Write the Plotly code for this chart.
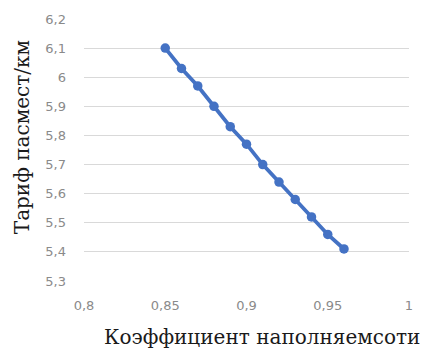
import plotly.graph_objects as go

x_vals = [0.85, 0.86, 0.87, 0.88, 0.89, 0.90, 0.91, 0.92, 0.93, 0.94, 0.95, 0.96]
y_vals = [6.10, 6.03, 5.97, 5.90, 5.83, 5.77, 5.70, 5.64, 5.58, 5.52, 5.46, 5.41]
x_ticks = [0.8, 0.85, 0.9, 0.95, 1.0]
x_tick_text = ["0,8", "0,85", "0,9", "0,95", "1"]
y_ticks = [5.3, 5.4, 5.5, 5.6, 5.7, 5.8, 5.9, 6.0, 6.1, 6.2]
y_tick_text = ["5,3", "5,4", "5,5", "5,6", "5,7", "5,8", "5,9", "6", "6,1", "6,2"]
x_title = "Коэффициент наполняемсоти"
y_title = "Тариф пасмест/км"

W, H = 427, 360
L, R, T, B = 84, 18, 15, 79

fig = go.Figure()
fig.add_trace(go.Scatter(
    x=x_vals, y=y_vals, mode="lines+markers",
    line=dict(color="#4472C4", width=3.8),
    marker=dict(color="#4472C4", size=9.5),
    showlegend=False,
))

tickfont = dict(family="DejaVu Sans, sans-serif", size=13, color="#8a8a8a")
titlefont = dict(family="DejaVu Serif, serif", size=20, color="#1a1a1a")
fig.update_layout(
    width=W, height=H,
    margin=dict(l=L, r=R, t=T, b=B, pad=0),
    paper_bgcolor="white", plot_bgcolor="white",
    xaxis=dict(range=[0.8, 1.0], tickvals=x_ticks, ticktext=x_tick_text,
               showgrid=False, zeroline=False, showline=False,
               tickfont=tickfont, ticks="", ticklabelstandoff=15),
    yaxis=dict(range=[5.3, 6.2], tickvals=y_ticks, ticktext=y_tick_text,
               showgrid=True, gridcolor="#d9d9d9", gridwidth=1,
               zeroline=False, showline=False,
               tickfont=tickfont, ticks="", ticklabelstandoff=17),
    annotations=[
        dict(text=x_title, x=262, y=H - 338, xref="paper", yref="paper",
             showarrow=False, font=titlefont),
        dict(text=y_title, x=22, y=H - 135, xref="paper", yref="paper",
             showarrow=False, textangle=-90, font=titlefont),
    ],
)
pw, ph = W - L - R, H - T - B
for a in fig.layout.annotations:
    a.x = (a.x - L) / pw
    a.y = (a.y - B) / ph
    a.xanchor = "center"
    a.yanchor = "middle"

fig.write_html("out.html")
